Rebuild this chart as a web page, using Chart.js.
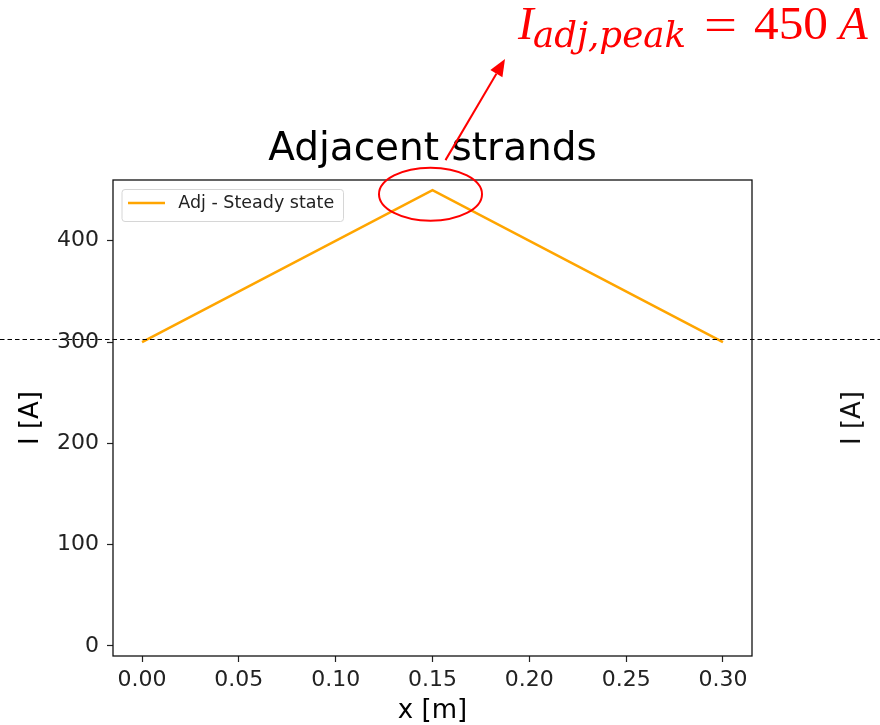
<!DOCTYPE html>
<html>
<head>
<meta charset="utf-8">
<script src="https://cdn.jsdelivr.net/npm/chart.js@4.4.1/dist/chart.umd.min.js"></script>
<style>
html,body{margin:0;padding:0;background:#fff;overflow:hidden}
#wrap{width:880px;height:725px;position:relative}
</style>
</head>
<body>
<div id="wrap"><canvas id="c" width="880" height="725"></canvas></div>
<script>
// ---- data ----
const positions = [0.00, 0.15, 0.30];
const adjSteadyState = [300, 450, 300];
const xTickValues = [0, 0.05, 0.10, 0.15, 0.20, 0.25, 0.30];
const yTickValues = [0, 100, 200, 300, 400];
const seriesLabel = 'Adj - Steady state';
const chartTitle = 'Adjacent strands';
const xAxisTitle = 'x [m]';
const yAxisTitle = 'I [A]';
const peakValue = 450;
const peakPosition = 0.15;
const referenceLevel = 303;

const ORANGE = '#FFA500';
const RED = '#FF0000';
const INK = '#222222';

function fitText(ctx, text, font, x, y, width) {
  ctx.font = font;
  const w = ctx.measureText(text).width;
  ctx.save();
  ctx.translate(x, y);
  ctx.scale(width / w, 1);
  ctx.fillText(text, 0, 0);
  ctx.restore();
}

const overlay = {
  id: 'overlay',
  beforeDraw(chart) {
    const ctx = chart.ctx;
    ctx.save();
    ctx.fillStyle = '#fff';
    ctx.fillRect(0, 0, chart.width, chart.height);
    ctx.restore();
  },
  afterDatasetsDraw(chart) {
    const ctx = chart.ctx;
    const a = chart.chartArea;
    ctx.save();
    // legend (matplotlib style, inside the axes, upper left)
    ctx.font = '17.5px "DejaVu Sans"';
    const label = chart.data.datasets[0].label;
    const tw = ctx.measureText(label).width;
    const lx = a.left + 9, ly = a.top + 9.5;
    const lw = 56.3 + tw + 9.3, lh = 32;
    ctx.beginPath();
    ctx.roundRect(lx, ly, lw, lh, 3);
    ctx.fillStyle = 'rgba(255,255,255,0.85)';
    ctx.fill();
    ctx.strokeStyle = '#d6d6d6';
    ctx.lineWidth = 1;
    ctx.stroke();
    const cy = ly + 13.5;
    ctx.beginPath();
    ctx.moveTo(lx + 6, cy);
    ctx.lineTo(lx + 43, cy);
    ctx.strokeStyle = chart.data.datasets[0].borderColor;
    ctx.lineWidth = 2.6;
    ctx.stroke();
    ctx.fillStyle = INK;
    ctx.textAlign = 'left';
    ctx.textBaseline = 'middle';
    ctx.fillText(label, lx + 56.3, cy);

    // axes frame
    ctx.strokeStyle = '#111';
    ctx.lineWidth = 1.3;
    ctx.strokeRect(a.left, a.top, a.right - a.left, a.bottom - a.top);
    ctx.restore();
  },
  afterDraw(chart) {
    const ctx = chart.ctx;
    const xs = chart.scales.x, ys = chart.scales.y;
    ctx.save();

    // reference dashed line across the whole picture
    const yRef = Math.floor(ys.getPixelForValue(referenceLevel)) + 0.5;
    ctx.beginPath();
    ctx.setLineDash([4.5, 3]);
    ctx.moveTo(0, yRef);
    ctx.lineTo(chart.width, yRef);
    ctx.strokeStyle = '#000';
    ctx.lineWidth = 1;
    ctx.stroke();
    ctx.setLineDash([]);

    // ellipse around the peak
    const px = xs.getPixelForValue(peakPosition);
    const py = ys.getPixelForValue(peakValue);
    ctx.beginPath();
    ctx.ellipse(px - 2, py + 4, 51.5, 26.5, 0, 0, Math.PI * 2);
    ctx.strokeStyle = RED;
    ctx.lineWidth = 2;
    ctx.stroke();

    // arrow
    const tx = px + 13, ty = py - 30;
    const hx = 505, hy = 59;
    const ang = Math.atan2(hy - ty, hx - tx);
    const hl = 17, hw = 7;
    const bx = hx - hl * Math.cos(ang), by = hy - hl * Math.sin(ang);
    ctx.beginPath();
    ctx.moveTo(tx, ty);
    ctx.lineTo(bx, by);
    ctx.strokeStyle = RED;
    ctx.lineWidth = 2;
    ctx.stroke();
    ctx.beginPath();
    ctx.moveTo(hx, hy);
    ctx.lineTo(bx + hw * Math.sin(ang), by - hw * Math.cos(ang));
    ctx.lineTo(bx - hw * Math.sin(ang), by + hw * Math.cos(ang));
    ctx.closePath();
    ctx.fillStyle = RED;
    ctx.fill();

    // annotation text
    ctx.fillStyle = RED;
    ctx.textBaseline = 'alphabetic';
    ctx.textAlign = 'left';
    ctx.font = 'italic 47px "Liberation Serif"';
    ctx.fillText('I', 518, 39);
    fitText(ctx, 'adj,peak', 'italic 35px "DejaVu Serif"', 533, 47, 153);
    fitText(ctx, '=', '47px "Liberation Serif"', 704, 40, 33);
    fitText(ctx, String(peakValue), '47px "Liberation Serif"', 754, 39, 74);
    ctx.font = 'italic 47px "Liberation Serif"';
    ctx.fillText('A', 839, 39);

    // clipped axis title of the neighbouring panel
    ctx.save();
    ctx.translate(853, 418);
    ctx.rotate(-Math.PI / 2);
    ctx.font = '26px "DejaVu Sans"';
    ctx.fillStyle = '#111';
    ctx.textAlign = 'center';
    ctx.textBaseline = 'middle';
    ctx.fillText(yAxisTitle, 0, 0);
    ctx.restore();

    ctx.restore();
  }
};

const points = positions.map((x, i) => ({x: x, y: adjSteadyState[i]}));

new Chart(document.getElementById('c'), {
  type: 'line',
  data: {
    datasets: [{
      label: seriesLabel,
      data: points,
      borderColor: ORANGE,
      backgroundColor: ORANGE,
      borderWidth: 2.6,
      pointRadius: 0,
      pointHoverRadius: 0,
      tension: 0,
      fill: false
    }]
  },
  options: {
    responsive: false,
    animation: false,
    devicePixelRatio: 1,
    events: [],
    layout: {padding: {top: 0, left: 0, right: 128, bottom: 0}},
    plugins: {
      tooltip: {enabled: false},
      legend: {display: false},
      title: {
        display: true,
        text: chartTitle,
        fullSize: false,
        color: '#000',
        font: {family: 'DejaVu Sans', size: 39, weight: 'normal', lineHeight: 1},
        padding: {top: 130.5, bottom: 10.5}
      }
    },
    scales: {
      x: {
        type: 'linear',
        min: -0.015,
        max: 0.315,
        afterBuildTicks: (s) => { s.ticks = xTickValues.map(v => ({value: v})); },
        afterFit: (s) => { s.height = 69; },
        grid: {display: true, drawOnChartArea: false, drawTicks: true, tickLength: 6, tickWidth: 1.2, tickColor: INK},
        border: {display: false},
        ticks: {
          font: {family: 'DejaVu Sans', size: 22},
          color: INK,
          padding: 5,
          maxRotation: 0,
          autoSkip: false,
          callback: (v) => Number(v).toFixed(2)
        },
        title: {
          display: true,
          text: xAxisTitle,
          color: '#000',
          font: {family: 'DejaVu Sans', size: 26, lineHeight: 1},
          padding: {top: 0, bottom: 1}
        }
      },
      y: {
        type: 'linear',
        min: -10,
        max: 460,
        afterBuildTicks: (s) => { s.ticks = yTickValues.map(v => ({value: v})); },
        afterFit: (s) => { s.width = 113; },
        grid: {display: true, drawOnChartArea: false, drawTicks: true, tickLength: 6, tickWidth: 1.2, tickColor: INK},
        border: {display: false},
        ticks: {
          font: {family: 'DejaVu Sans', size: 22},
          color: INK,
          padding: 8,
          autoSkip: false,
          callback: (v) => String(v)
        },
        title: {
          display: true,
          text: yAxisTitle,
          color: '#000',
          font: {family: 'DejaVu Sans', size: 26, lineHeight: 1},
          padding: {top: 18, bottom: 18}
        }
      }
    }
  },
  plugins: [overlay]
});
</script>
</body>
</html>
